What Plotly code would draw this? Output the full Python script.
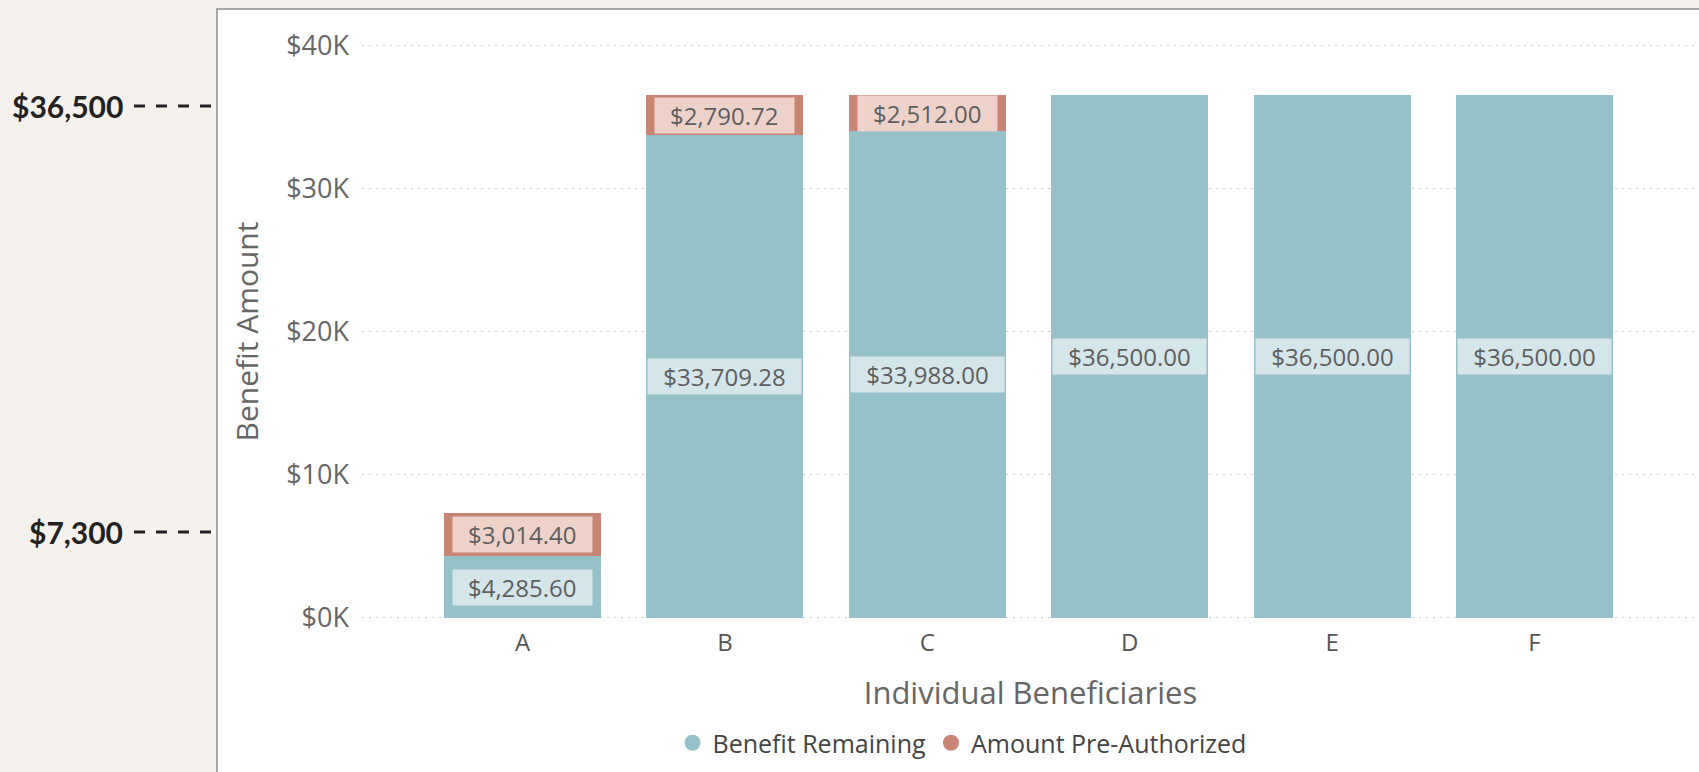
import plotly.graph_objects as go

# ---- data ----
beneficiaries = ["A", "B", "C", "D", "E", "F"]
benefit_remaining = [4285.60, 33709.28, 33988.00, 36500.00, 36500.00, 36500.00]
amount_preauth = [3014.40, 2790.72, 2512.00, 0, 0, 0]
series_names = ["Benefit Remaining", "Amount Pre-Authorized"]
y_tick_vals = [0, 10000, 20000, 30000, 40000]
y_tick_text = ["$0K", "$10K", "$20K", "$30K", "$40K"]
side_labels = ["$36,500", "$7,300"]

# ---- style ----
W, H = 1699, 772
ML, MR, MT, MB = 362, 0, 43, 152
PW, PH = W - ML - MR, H - MT - MB

def px_x(p):
    return (p - ML) / PW

def px_y(p):
    return (H - MB - p) / PH

TEAL = "#96c1c8"
SALMON = "#c98574"
TEAL_BOX = "#d4e6ea"
SALMON_BOX = "#eed2ca"
TXT = "#666666"
FONT = "Segoe UI, Open Sans, sans-serif"

fig = go.Figure()
fig.add_trace(go.Bar(
    x=beneficiaries, y=benefit_remaining, name=series_names[0],
    marker=dict(color=TEAL, line=dict(width=0)), hoverinfo="skip",
    showlegend=False, legendgroup="rem"))
fig.add_trace(go.Bar(
    x=beneficiaries, y=amount_preauth, name=series_names[1],
    marker=dict(color=SALMON, line=dict(width=0)), hoverinfo="skip",
    showlegend=False, legendgroup="pre"))
# legend keys (circle markers, as in the original legend)
for nm, col, grp in zip(series_names, [TEAL, SALMON], ["rem", "pre"]):
    fig.add_trace(go.Scatter(
        x=[None], y=[None], mode="markers", name=nm, legendgroup=grp,
        marker=dict(color=col, size=17, symbol="circle"), showlegend=True))

def box_w(txt):
    return 14.5 * len(txt) + 2

annotations = []
for cat, rem, pre in zip(beneficiaries, benefit_remaining, amount_preauth):
    if rem > 0:
        t = "${:,.2f}".format(rem)
        annotations.append(dict(
            x=cat, y=rem / 2, xref="x", yref="y",
            text=t, showarrow=False, width=box_w(t), height=29,
            font=dict(family=FONT, size=24, color="#5e5e5e"),
            bgcolor=TEAL_BOX, borderpad=3))
    if pre > 0:
        t = "${:,.2f}".format(pre)
        annotations.append(dict(
            x=cat, y=rem + pre / 2, xref="x", yref="y",
            text=t, showarrow=False, width=box_w(t), height=29,
            font=dict(family=FONT, size=24, color="#5e5e5e"),
            bgcolor=SALMON_BOX, borderpad=3))

# left side labels
side_y_px = [106, 532]
shapes = [dict(type="rect", xref="paper", yref="paper", layer="below",
               x0=px_x(217), x1=px_x(W + 20), y0=px_y(9), y1=px_y(H + 20),
               fillcolor="white", line=dict(color="#a8a8a8", width=2))]
for lab, yp in zip(side_labels, side_y_px):
    annotations.append(dict(
        x=px_x(125), y=px_y(yp), xref="paper", yref="paper",
        xanchor="right", yanchor="middle", text=lab, showarrow=False,
        font=dict(family="Lato, sans-serif", size=30, color="#222222", weight="bold")))
    shapes.append(dict(type="line", xref="paper", yref="paper",
                       x0=px_x(134), x1=px_x(214), y0=px_y(yp), y1=px_y(yp),
                       line=dict(color="#222222", width=3, dash="11px,11px")))

fig.update_layout(
    width=W, height=H,
    margin=dict(l=ML, r=MR, t=MT, b=MB),
    paper_bgcolor="#f5f2ee",
    plot_bgcolor="rgba(0,0,0,0)",
    barmode="stack",
    bargap=0.224,
    showlegend=True,
    legend=dict(orientation="h", x=px_x(962), xanchor="center",
                y=px_y(743), yanchor="middle", traceorder="normal",
                font=dict(family=FONT, size=25, color="#444444"),
                itemwidth=30, bgcolor="rgba(0,0,0,0)"),
    xaxis=dict(
        categoryorder="array", categoryarray=beneficiaries,
        range=[-0.793, 5.813],
        showgrid=False, zeroline=False, showline=False, ticks="",
        ticklabelstandoff=6,
        tickfont=dict(family=FONT, size=24, color="#555555"),
        title=dict(text="Individual Beneficiaries", standoff=25,
                   font=dict(family=FONT, size=31, color=TXT))),
    yaxis=dict(
        range=[-150, 40150], tickvals=y_tick_vals, ticktext=y_tick_text,
        showgrid=True, gridcolor="#cfcfcf", gridwidth=1, griddash="2px,5px",
        zeroline=False, showline=False, ticks="", ticklabelstandoff=12,
        tickfont=dict(family=FONT, size=27, color=TXT),
        title=dict(text="Benefit Amount", standoff=18,
                   font=dict(family=FONT, size=30, color=TXT))),
    annotations=annotations,
    shapes=shapes,
)

fig.write_html(
    "out.html",
    config={"displayModeBar": False},
    post_script="document.body.style.margin='0';"
                "document.body.style.background='#f5f2ee';"
                "document.body.style.overflow='hidden';")
